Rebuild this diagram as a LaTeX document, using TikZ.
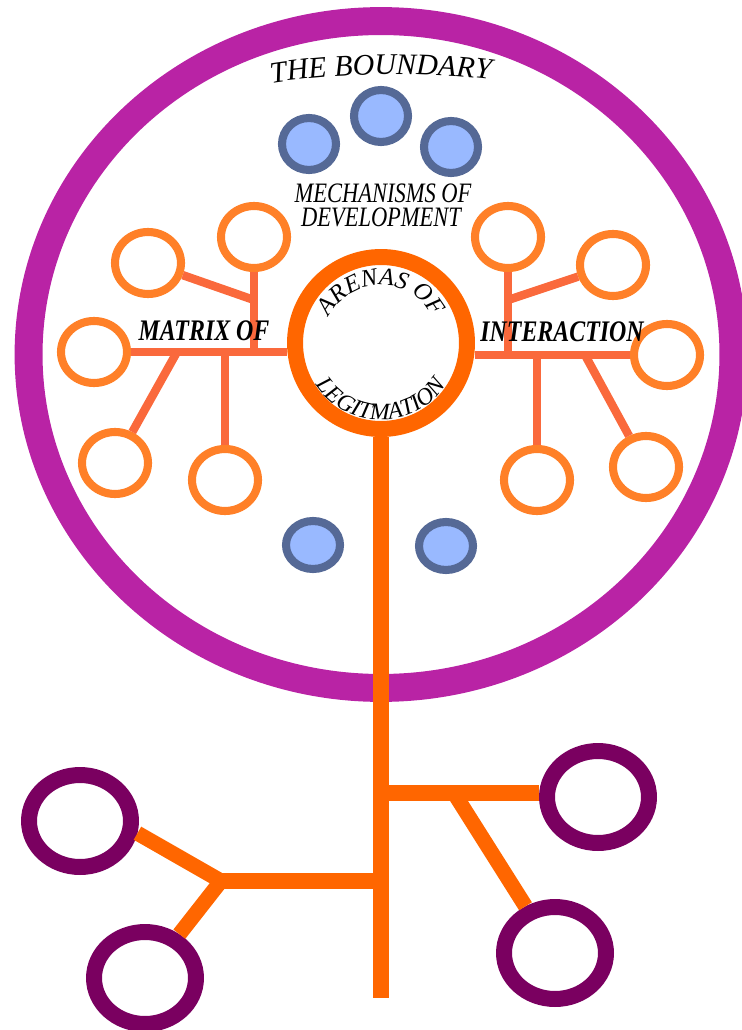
\documentclass[tikz,border=0pt]{standalone}
\usepackage{fontspec}
\setmainfont{Liberation Serif}
\usetikzlibrary{shapes.geometric,decorations.text}

\definecolor{boundcol}{RGB}{185,35,165}
\definecolor{ringcol}{RGB}{255,102,0}
\definecolor{bubblecol}{RGB}{255,128,40}
\definecolor{linkcol}{RGB}{250,105,60}
\definecolor{rootcol}{RGB}{122,0,96}
\definecolor{mechfill}{RGB}{153,185,255}
\definecolor{mechline}{RGB}{85,105,150}

\newcommand{\boundfont}{\fontsize{17}{17}\selectfont\itshape}
\newcommand{\arenafont}{\fontsize{14}{14}\selectfont\itshape}
\newcommand{\legitfont}{\fontsize{13.5}{13.5}\selectfont\itshape}

\begin{document}
\begin{tikzpicture}[x=0.02cm,y=-0.02cm,
  boundary/.style={ellipse,draw=boundcol,line width=15.9pt,minimum width=14.1cm,minimum height=13.34cm},
  hubring/.style={circle,draw=ringcol,line width=9.1pt,minimum size=3.44cm},
  bubble/.style={ellipse,draw=bubblecol,line width=4.6pt,minimum width=1.32cm,minimum height=1.24cm},
  mech/.style={ellipse,draw=mechline,fill=mechfill,line width=4.6pt,minimum width=1.08cm,minimum height=1.04cm},
  bulb/.style={ellipse,draw=rootcol,line width=9.1pt,minimum width=2.04cm,minimum height=1.84cm},
  link/.style={draw=linkcol,line width=4.8pt},
  stemline/.style={draw=ringcol,line width=9.1pt},
  rootline/.style={draw=ringcol,line width=8.6pt},
  lettering/.style={anchor=base,xscale=0.8,inner sep=0pt}]
\useasboundingbox (0,0) rectangle (742,1030);
% the boundary
\node[boundary] (bnd) at (381,354.5) {};
% mechanisms of development
\node[mech] (mech1) at (309,144) {};
\node[mech] (mech2) at (381,116) {};
\node[mech] (mech3) at (451,147) {};
\node[mech,minimum height=0.96cm] (mech4) at (313,545) {};
\node[mech,minimum height=0.96cm] (mech5) at (446,546) {};
% matrix of interaction
\node[bubble] (ml1) at (254,237) {};
\node[bubble] (ml2) at (148,263) {};
\node[bubble] (ml3) at (94,352) {};
\node[bubble] (ml4) at (115,463) {};
\node[bubble] (ml5) at (225,480) {};
\node[bubble] (mr1) at (508,237) {};
\node[bubble] (mr2) at (613,265) {};
\node[bubble] (mr3) at (667,355) {};
\node[bubble] (mr4) at (646,467) {};
\node[bubble] (mr5) at (537,480) {};
\node[hubring] (hub) at (381,343) {};
% roots
\node[bulb] (rl1) at (80,821) {};
\node[bulb] (rl2) at (145,978) {};
\node[bulb] (rr1) at (598,797) {};
\node[bulb] (rr2) at (555,953) {};
\coordinate (jml) at (254,300);
\coordinate (jmb) at (177,352);
\coordinate (jmr) at (508,300);
\coordinate (jmd) at (585,355);
\coordinate (stembot) at (381,998);
\coordinate (jr) at (381,793);
\coordinate (jd) at (454,793);
\coordinate (jl) at (221,881);
\path[link] (ml3) edge (ml3 -| hub.west)
  (ml1) edge (ml1 |- ml3)
  (ml2) edge (jml)
  (jmb) edge (ml4)
  (ml5) edge (ml5 |- ml3);
\path[link] (mr3) edge (mr3 -| hub.east)
  (mr1) edge (mr1 |- mr3)
  (jmr) edge (mr2)
  (jmd) edge (mr4)
  (mr5) edge (mr5 |- mr3);
\path[stemline] (hub.south) edge (stembot);
\path[rootline] (jr) edge (jr -| rr1.west)
  (jd) edge (rr2)
  (jl) edge (jl -| stembot);
\path[rootline] (rl1.-12) -- (jl) -- (rl2);
% texts
\path[decorate,decoration={text along path,text align=center,text={|\boundfont|THE BOUNDARY}}]
  (255,86) .. controls (328,72) and (434,70) .. (507,82);
\path[decorate,decoration={text along path,text align=center,text={|\arenafont|ARENAS OF}}]
  (hub.center) ++(-180:58) arc[start angle=-180,end angle=0,radius=58];
\path[decorate,decoration={text along path,text align=center,text={|\legitfont|LEGITMATION}}]
  (hub.center) ++(-180:77) arc[start angle=-180,end angle=-360,radius=77];
\node[lettering,font=\fontsize{16}{16}\selectfont\itshape] (mechtxt1) at (383,203) {MECHANISMS OF};
\node[lettering,font=\fontsize{16}{16}\selectfont\itshape] (mechtxt2) at (381,227) {DEVELOPMENT};
\node[lettering,font=\fontsize{17}{17}\selectfont\bfseries\itshape] (matrixtxt) at (204,340) {MATRIX OF};
\node[lettering,font=\fontsize{17}{17}\selectfont\bfseries\itshape] (interacttxt) at (562,341) {INTERACTION};
\end{tikzpicture}
\end{document}
